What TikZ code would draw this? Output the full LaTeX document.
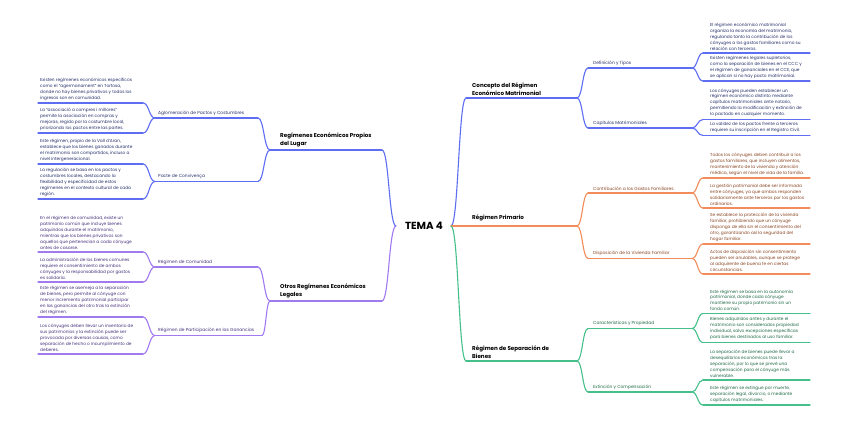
\documentclass[tikz,border=0pt]{standalone}
\usepackage{fontspec}
\setmainfont{Poppins}
\usetikzlibrary{calc}
\definecolor{cblue}{HTML}{5E6EF2}
\definecolor{cpurple}{HTML}{A27AF0}
\definecolor{corange}{HTML}{F28C5A}
\definecolor{cgreen}{HTML}{45C08A}
\definecolor{tblue}{HTML}{26306B}
\definecolor{tpurple}{HTML}{46327E}
\definecolor{torange}{HTML}{8A4522}
\definecolor{tgreen}{HTML}{1F6B48}
\tikzset{
  conn/.style={line width=1.1pt, line cap=round},
  leaftext/.style={inner sep=0pt, align=left, anchor=south west, font=\fontsize{4.3}{5.9}\selectfont},
  subtext/.style={inner sep=0pt, anchor=south west, font=\fontsize{4.4}{6}\selectfont},
  maintext/.style={inner sep=0pt, align=left, anchor=south west, text=black, font=\fontsize{5.6}{7.8}\selectfont\bfseries},
  roottext/.style={inner sep=0pt, text=black, font=\fontsize{10.3}{12}\selectfont\bfseries},
}
% S-shaped connector between two named points
\newcommand\myconn[3]{\draw[conn,#1] let \p1=(#2), \p2=(#3) in (#2) .. controls ({0.5*\x1+0.5*\x2},\y1) and ({0.5*\x1+0.5*\x2},\y2) .. (#3);}
% right leaf: name, y, line colour, text colour, text
\newcommand\leafR[5]{\coordinate (#1a) at (703,#2); \coordinate (#1b) at (810,#2);
  \draw[conn,#3] (#1a) -- (#1b);
  \node[leaftext,text=#4] (#1) at (710,#2-2.5) {#5};}
% left leaf
\newcommand\leafL[5]{\coordinate (#1a) at (38,#2); \coordinate (#1b) at (143,#2);
  \draw[conn,#3] (#1a) -- (#1b);
  \node[leaftext,text=#4] (#1) at (40,#2-2.5) {#5};}
% right sub: name, y, line colour, text colour, text
\newcommand\subR[5]{\coordinate (#1a) at (588,#2); \coordinate (#1b) at (692,#2);
  \draw[conn,#3] (#1a) -- (#1b);
  \node[subtext,text=#4] (#1) at (593,#2-2.5) {#5};}
% left sub: name, y, x end, line colour, text colour, text
\newcommand\subL[6]{\coordinate (#1a) at (155,#2); \coordinate (#1b) at (#3,#2);
  \draw[conn,#4] (#1a) -- (#1b);
  \node[subtext,text=#5] (#1) at (158,#2-2.5) {#6};}
\begin{document}
\begin{tikzpicture}[x=1pt,y=-1pt]
\useasboundingbox[fill=white] (0,0) rectangle (848,425);

% root
\node[roottext] (root) at (424,226) {TEMA 4};
\coordinate (rootR) at (451,226);
\coordinate (rootL) at (396,226);

% ===== right: Concepto =====
\coordinate (b1a) at (466,98); \coordinate (b1b) at (577,98);
\draw[conn,cblue] (b1a) -- (b1b);
\node[maintext] (b1) at (472,95.5) {Concepto del Régimen\\Económico Matrimonial};
\myconn{cblue}{rootR}{b1a}

\subR{c1}{68}{cblue}{tblue}{Definición y Tipos}
\subR{c2}{128}{cblue}{tblue}{Capítulos Matrimoniales}
\myconn{cblue}{b1b}{c1a}
\myconn{cblue}{b1b}{c2a}

\leafR{r1}{53}{cblue}{tblue}{El régimen económico matrimonial\\organiza la economía del matrimonio,\\regulando tanto la contribución de los\\cónyuges a los gastos familiares como su\\relación con terceros.}
\leafR{r2}{81}{cblue}{tblue}{Existen regímenes legales supletorios,\\como la separación de bienes en el CCC y\\el régimen de gananciales en el CCE, que\\se aplican si no hay pacto matrimonial.}
\leafR{r3}{119.5}{cblue}{tblue}{Los cónyuges pueden establecer un\\régimen económico distinto mediante\\capítulos matrimoniales ante notario,\\permitiendo la modificación y extinción de\\lo pactado en cualquier momento.}
\leafR{r4}{135.5}{cblue}{tblue}{La validez de los pactos frente a terceros\\requiere su inscripción en el Registro Civil.}
\myconn{cblue}{c1b}{r1a}
\myconn{cblue}{c1b}{r2a}
\myconn{cblue}{c2b}{r3a}
\myconn{cblue}{c2b}{r4a}

% ===== right: Régimen Primario =====
\coordinate (b2b) at (577,226);
\draw[conn,corange] (rootR) -- (b2b);
\node[maintext] (b2) at (472,221) {Régimen Primario};

\subR{c3}{193}{corange}{torange}{Contribución a los Gastos Familiares}
\subR{c4}{258.5}{corange}{torange}{Disposición de la Vivienda Familiar}
\myconn{corange}{b2b}{c3a}
\myconn{corange}{b2b}{c4a}

\leafR{r5}{178}{corange}{torange}{Todos los cónyuges deben contribuir a los\\gastos familiares, que incluyen alimentos,\\mantenimiento de la vivienda y atención\\médica, según el nivel de vida de la familia.}
\leafR{r6}{208}{corange}{torange}{La gestión patrimonial debe ser informada\\entre cónyuges, ya que ambos responden\\solidariamente ante terceros por los gastos\\ordinarios.}
\leafR{r7}{244}{corange}{torange}{Se establece la protección de la vivienda\\familiar, prohibiendo que un cónyuge\\disponga de ella sin el consentimiento del\\otro, garantizando así la seguridad del\\hogar familiar.}
\leafR{r8}{274}{corange}{torange}{Actos de disposición sin consentimiento\\pueden ser anulables, aunque se protege\\al adquirente de buena fe en ciertas\\circunstancias.}
\myconn{corange}{c3b}{r5a}
\myconn{corange}{c3b}{r6a}
\myconn{corange}{c4b}{r7a}
\myconn{corange}{c4b}{r8a}

% ===== right: Separación de Bienes =====
\coordinate (b3a) at (466,361); \coordinate (b3b) at (577,361);
\draw[conn,cgreen] (b3a) -- (b3b);
\node[maintext] (b3) at (472,358.5) {Régimen de Separación de\\Bienes};
\myconn{cgreen}{rootR}{b3a}

\subR{c5}{328.5}{cgreen}{tgreen}{Características y Propiedad}
\subR{c6}{392}{cgreen}{tgreen}{Extinción y Compensación}
\myconn{cgreen}{b3b}{c5a}
\myconn{cgreen}{b3b}{c6a}

\leafR{r9}{313.5}{cgreen}{tgreen}{Este régimen se basa en la autonomía\\patrimonial, donde cada cónyuge\\mantiene su propio patrimonio sin un\\fondo común.}
\leafR{r10}{342.5}{cgreen}{tgreen}{Bienes adquiridos antes y durante el\\matrimonio son considerados propiedad\\individual, salvo excepciones específicas\\para bienes destinados al uso familiar.}
\leafR{r11}{380}{cgreen}{tgreen}{La separación de bienes puede llevar a\\desequilibrios económicos tras la\\separación, por lo que se prevé una\\compensación para el cónyuge más\\vulnerable.}
\leafR{r12}{405}{cgreen}{tgreen}{Este régimen se extingue por muerte,\\separación legal, divorcio, o mediante\\capítulos matrimoniales.}
\myconn{cgreen}{c5b}{r9a}
\myconn{cgreen}{c5b}{r10a}
\myconn{cgreen}{c6b}{r11a}
\myconn{cgreen}{c6b}{r12a}

% ===== left: Propios del Lugar =====
\coordinate (b4a) at (270,150); \coordinate (b4b) at (382,150);
\draw[conn,cblue] (b4a) -- (b4b);
\node[maintext] (b4) at (280,147.5) {Regímenes Económicos Propios\\del Lugar};
\myconn{cblue}{rootL}{b4b}

\subL{c7}{118}{258}{cblue}{tblue}{Aglomeración de Pactos y Costumbres}
\subL{c8}{181.5}{258}{cblue}{tblue}{Pacte de Convivença}
\myconn{cblue}{b4a}{c7b}
\myconn{cblue}{b4a}{c8b}

\leafL{l1}{103}{cblue}{tblue}{Existen regímenes económicos específicos\\como el “agermanament” en Tortosa,\\donde no hay bienes privativos y todos los\\ingresos son en comunidad.}
\leafL{l2}{133}{cblue}{tblue}{La “associació a compres i millores”\\permite la asociación en compras y\\mejoras, regido por la costumbre local,\\priorizando los pactos entre las partes.}
\leafL{l3}{164}{cblue}{tblue}{Este régimen, propio de la Vall d’Aran,\\establece que los bienes ganados durante\\el matrimonio son compartidos, incluso a\\nivel intergeneracional.}
\leafL{l4}{199}{cblue}{tblue}{La regulación se basa en los pactos y\\costumbres locales, destacando la\\flexibilidad y especificidad de estos\\regímenes en el contexto cultural de cada\\región.}
\myconn{cblue}{c7a}{l1b}
\myconn{cblue}{c7a}{l2b}
\myconn{cblue}{c8a}{l3b}
\myconn{cblue}{c8a}{l4b}

% ===== left: Otros Regímenes =====
\coordinate (b5a) at (270,301); \coordinate (b5b) at (382,301);
\draw[conn,cpurple] (b5a) -- (b5b);
\node[maintext] (b5) at (280,298.5) {Otros Regímenes Económicos\\Legales};
\myconn{cpurple}{rootL}{b5b}

\subL{c9}{267}{258}{cpurple}{tpurple}{Régimen de Comunidad}
\subL{c10}{335.5}{262}{cpurple}{tpurple}{Régimen de Participación en las Ganancias}
\myconn{cpurple}{b5a}{c9b}
\myconn{cpurple}{b5a}{c10b}

\leafL{l5}{252}{cpurple}{tpurple}{En el régimen de comunidad, existe un\\patrimonio común que incluye bienes\\adquiridos durante el matrimonio,\\mientras que los bienes privativos son\\aquellos que pertenecían a cada cónyuge\\antes de casarse.}
\leafL{l6}{282}{cpurple}{tpurple}{La administración de los bienes comunes\\requiere el consentimiento de ambos\\cónyuges y la responsabilidad por gastos\\es solidaria.}
\leafL{l7}{317}{cpurple}{tpurple}{Este régimen se asemeja a la separación\\de bienes, pero permite al cónyuge con\\menor incremento patrimonial participar\\en las ganancias del otro tras la extinción\\del régimen.}
\leafL{l8}{354}{cpurple}{tpurple}{Los cónyuges deben llevar un inventario de\\sus patrimonios y la extinción puede ser\\provocada por diversas causas, como\\separación de hecho o incumplimiento de\\deberes.}
\myconn{cpurple}{c9a}{l5b}
\myconn{cpurple}{c9a}{l6b}
\myconn{cpurple}{c10a}{l7b}
\myconn{cpurple}{c10a}{l8b}
\end{tikzpicture}
\end{document}
